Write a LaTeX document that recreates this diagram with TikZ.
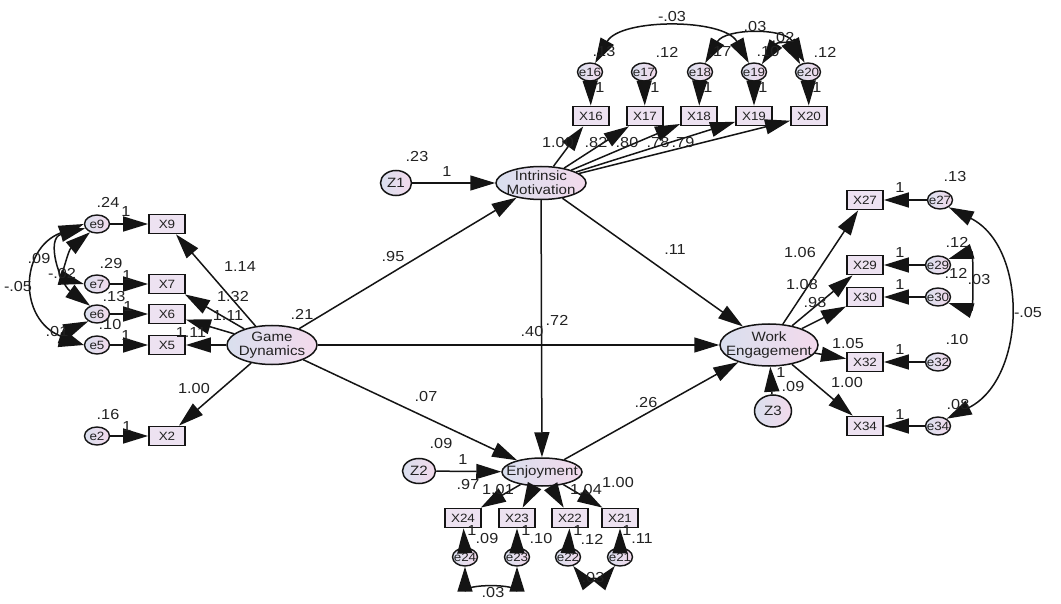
\documentclass[tikz,border=0pt]{standalone}
\usepackage{fontspec}
\setmainfont{Liberation Sans}[FakeStretch=1.12]
\usetikzlibrary{arrows.meta,shapes.geometric}
\definecolor{lnc}{HTML}{141414}
\definecolor{txc}{HTML}{222222}
\definecolor{fillA}{HTML}{D9DFEE}
\definecolor{fillB}{HTML}{F3DAEC}
\definecolor{boxf}{HTML}{EDE2F1}
\newcommand\mylbl[3]{\node[lbl] (#1) at (#2) {#3};}
\begin{document}
\begin{tikzpicture}[x=1pt,y=-1pt,
  amos/.tip={Triangle[length=25pt,width=15pt]},
  lat/.style={ellipse,draw=lnc,line width=1.5pt,left color=fillA,right color=fillB,inner sep=0pt},
  latt/.style={font=\fontsize{13.5}{14}\selectfont,text=txc,align=center,inner sep=0pt},
  obs/.style={rectangle,draw=lnc,line width=1.8pt,fill=boxf,minimum width=36pt,minimum height=19pt,inner sep=0pt,font=\fontsize{12}{12}\selectfont,text=txc},
  err/.style={ellipse,draw=lnc,line width=1.4pt,left color=fillA,right color=fillB,minimum width=25pt,minimum height=18pt,inner sep=0pt},
  errt/.style={font=\fontsize{12}{12}\selectfont,text=txc,inner sep=0pt},
  lbl/.style={font=\fontsize{14.5}{15}\selectfont,text=txc,inner sep=0pt},
  arr/.style={draw=lnc,line width=1.5pt,-amos},
  cov/.style={draw=lnc,line width=1.5pt,amos-amos},
]
\fill[white] (0,0) rectangle (1061,604);
\useasboundingbox (0,0) rectangle (1061,604);

% latent variables
\node[lat,minimum width=90pt,minimum height=39pt,label={[latt]center:Game\\Dynamics}] (GD) at (272,345) {};
\node[lat,minimum width=90pt,minimum height=33pt,label={[latt]center:Intrinsic\\Motivation}] (IM) at (541,183) {};
\node[lat,minimum width=80pt,minimum height=28pt,label={[latt]center:Enjoyment}] (Enj) at (542,472) {};
\node[lat,minimum width=98pt,minimum height=42pt,label={[latt]center:Work\\Engagement}] (WE) at (769,345) {};
\node[lat,minimum width=31pt,minimum height=25pt,label={[latt]center:Z1}] (Z1) at (396,183) {};
\node[lat,minimum width=33pt,minimum height=25pt,label={[latt]center:Z2}] (Z2) at (419,471) {};
\node[lat,minimum width=37pt,minimum height=32pt,label={[latt]center:Z3}] (Z3) at (773,411) {};

% left indicators
\node[obs] (X9) at (167,224) {X9};
\node[obs] (X7) at (167,284) {X7};
\node[obs] (X6) at (167,314) {X6};
\node[obs] (X5) at (167,345) {X5};
\node[obs] (X2) at (167,436) {X2};
\node[err,label={[errt]center:e9}] (e9) at (97,224) {};
\node[err,label={[errt]center:e7}] (e7) at (97,284) {};
\node[err,label={[errt]center:e6}] (e6) at (97,314) {};
\node[err,label={[errt]center:e5}] (e5) at (97,345) {};
\node[err,label={[errt]center:e2}] (e2) at (97,436) {};

% top indicators
\node[obs] (X16) at (591,116) {X16};
\node[obs] (X17) at (645,116) {X17};
\node[obs] (X18) at (699,116) {X18};
\node[obs] (X19) at (754,116) {X19};
\node[obs] (X20) at (809,116) {X20};
\node[err,label={[errt]center:e16}] (e16) at (590,72) {};
\node[err,label={[errt]center:e17}] (e17) at (644,72) {};
\node[err,label={[errt]center:e18}] (e18) at (700,72) {};
\node[err,label={[errt]center:e19}] (e19) at (754,72) {};
\node[err,label={[errt]center:e20}] (e20) at (808,72) {};

% right indicators
\node[obs] (X27) at (865,200) {X27};
\node[obs] (X29) at (865,265) {X29};
\node[obs] (X30) at (865,297) {X30};
\node[obs] (X32) at (865,362) {X32};
\node[obs] (X34) at (865,426) {X34};
\node[err,label={[errt]center:e27}] (e27) at (940,200) {};
\node[err,label={[errt]center:e29}] (e29) at (938,265) {};
\node[err,label={[errt]center:e30}] (e30) at (938,297) {};
\node[err,label={[errt]center:e32}] (e32) at (938,362) {};
\node[err,label={[errt]center:e34}] (e34) at (938,426) {};

% bottom indicators
\node[obs] (X24) at (463,518) {X24};
\node[obs] (X23) at (517,518) {X23};
\node[obs] (X22) at (570,518) {X22};
\node[obs] (X21) at (620,518) {X21};
\node[err,label={[errt]center:e24}] (e24) at (465,557) {};
\node[err,label={[errt]center:e23}] (e23) at (517,557) {};
\node[err,label={[errt]center:e22}] (e22) at (568,557) {};
\node[err,label={[errt]center:e21}] (e21) at (620,557) {};

% structural paths
\draw[arr] (Z1) -- (IM);
\draw[arr] (GD) -- (IM);
\draw[arr] (GD) -- (WE);
\draw[arr] (GD) -- (Enj);
\draw[arr] (IM) -- (Enj);
\draw[arr] (IM) -- (WE);
\draw[arr] (Enj) -- (WE);
\draw[arr] (Z2) -- (Enj);
\draw[arr] (Z3) -- (WE);

% loadings
\foreach \t in {X9,X7,X6,X5,X2} {\draw[arr] (GD) -- (\t);}
\foreach \t in {X16,X17,X18,X19,X20} {\draw[arr] (IM) -- (\t);}
\foreach \t in {X27,X29,X30,X32,X34} {\draw[arr] (WE) -- (\t);}
\foreach \t in {X24,X23,X22,X21} {\draw[arr] (Enj) -- (\t);}

% error paths
\foreach \n in {9,7,6,5,2} {\draw[arr] (e\n) -- (X\n);}
\foreach \n in {16,17,18,19,20} {\draw[arr] (e\n) -- (X\n);}
\foreach \n in {27,29,30,32,34} {\draw[arr] (e\n) -- (X\n);}
\foreach \n in {24,23,22,21} {\draw[arr] (e\n) -- (X\n);}

% covariances left
\draw[cov] (e9.west) .. controls +(-65,25) and +(-65,-25) .. (e5.west);
\draw[cov] (e9.200) .. controls +(-40,10) and +(-30,-22) .. (e6.130);
\draw[cov] (e9.230) .. controls +(-22,18) and +(-22,-6) .. (e7.west);
\draw[cov] (e6.220) .. controls +(-18,8) and +(-18,-4) .. (e5.west);
% covariances top
\draw[cov] (e16.60) .. controls +(25,-45) and +(-25,-45) .. (e19.120);
\draw[cov] (e18.60) .. controls +(20,-35) and +(-20,-35) .. (e20.110);
\draw[cov] (e19.45) .. controls +(15,-22) and +(-12,-22) .. (e20.135);
% covariances right
\draw[cov] (e27.-40) .. controls +(80,40) and +(80,-40) .. (e34.40);
\draw[cov] (e29.30) .. controls +(25,-8) and +(25,8) .. (e30.-30);
% covariances bottom
\draw[cov] (e24.south) .. controls +(0,17) and +(0,17) .. (e23.south);
\draw[cov] (e22.-60) .. controls +(8,10) and +(-8,10) .. (e21.-120);

% structural labels
\mylbl{l1}{417,157}{.23}
\mylbl{l2}{447,172}{1}
\mylbl{l3}{393,257}{.95}
\mylbl{l4}{302,314}{.21}
\mylbl{l5}{675,250}{.11}
\mylbl{l6}{532,332}{.40}
\mylbl{l7}{557,320}{.72}
\mylbl{l8}{426,397}{.07}
\mylbl{l9}{646,403}{.26}
\mylbl{l10}{441,444}{.09}
\mylbl{l11}{463,460}{1}
\mylbl{l12}{781,373}{1}
\mylbl{l13}{793,387}{.09}

% GD loadings
\mylbl{g1}{240,267}{1.14}
\mylbl{g2}{233,297}{1.32}
\mylbl{g3}{228,316}{1.11}
\mylbl{g4}{191,333}{1.11}
\mylbl{g5}{194,389}{1.00}
% left error labels
\mylbl{v9}{108,202}{.24}
\mylbl{o9}{126,212}{1}
\mylbl{v7}{111,264}{.29}
\mylbl{o7}{127,276}{1}
\mylbl{v6}{114,297}{.13}
\mylbl{o6}{128,307}{1}
\mylbl{v5}{110,325}{.10}
\mylbl{o5}{126,336}{1}
\mylbl{v2}{108,415}{.16}
\mylbl{o2}{127,427}{1}
\mylbl{c1}{18,287}{-.05}
\mylbl{c2}{39,259}{.09}
\mylbl{c3}{62,274}{-.02}
\mylbl{c4}{57,332}{.01}

% top labels
\mylbl{v16}{604,52}{.13}
\mylbl{v17}{667,52}{.12}
\mylbl{v18}{720,52}{.17}
\mylbl{v19}{768,52}{.10}
\mylbl{v20}{825,52}{.12}
\mylbl{o16}{600,88}{1}
\mylbl{o17}{655,88}{1}
\mylbl{o18}{708,88}{1}
\mylbl{o19}{763,88}{1}
\mylbl{o20}{817,88}{1}
\mylbl{m1}{558,143}{1.00}
\mylbl{m2}{596,143}{.82}
\mylbl{m3}{627,143}{.80}
\mylbl{m4}{658,143}{.78}
\mylbl{m5}{683,143}{.79}
\mylbl{c5}{672,17}{-.03}
\mylbl{c6}{755,27}{.03}
\mylbl{c7}{783,38}{.02}

% right labels
\mylbl{w1}{800,253}{1.06}
\mylbl{w2}{802,285}{1.08}
\mylbl{w3}{815,303}{.98}
\mylbl{w4}{848,344}{1.05}
\mylbl{w5}{847,383}{1.00}
\mylbl{o27}{900,188}{1}
\mylbl{o29}{900,253}{1}
\mylbl{o30}{900,285}{1}
\mylbl{o32}{900,350}{1}
\mylbl{o34}{900,415}{1}
\mylbl{v27}{955,177}{.13}
\mylbl{v29}{957,242}{.12}
\mylbl{v30}{956,273}{.12}
\mylbl{v32}{957,340}{.10}
\mylbl{v34}{958,405}{.08}
\mylbl{c8}{979,280}{.03}
\mylbl{c9}{1028,313}{-.05}

% bottom labels
\mylbl{n1}{468,485}{.97}
\mylbl{n2}{498,490}{1.01}
\mylbl{n3}{586,490}{1.04}
\mylbl{n4}{618,483}{1.00}
\mylbl{o24}{472,531}{1}
\mylbl{o23}{526,531}{1}
\mylbl{o22}{578,531}{1}
\mylbl{o21}{627,531}{1}
\mylbl{v24}{487,539}{.09}
\mylbl{v23}{541,539}{.10}
\mylbl{v22}{592,539}{.12}
\mylbl{v21}{642,539}{.11}
\mylbl{c10}{493,593}{.03}
\mylbl{c11}{593,578}{.03}
\end{tikzpicture}
\end{document}
